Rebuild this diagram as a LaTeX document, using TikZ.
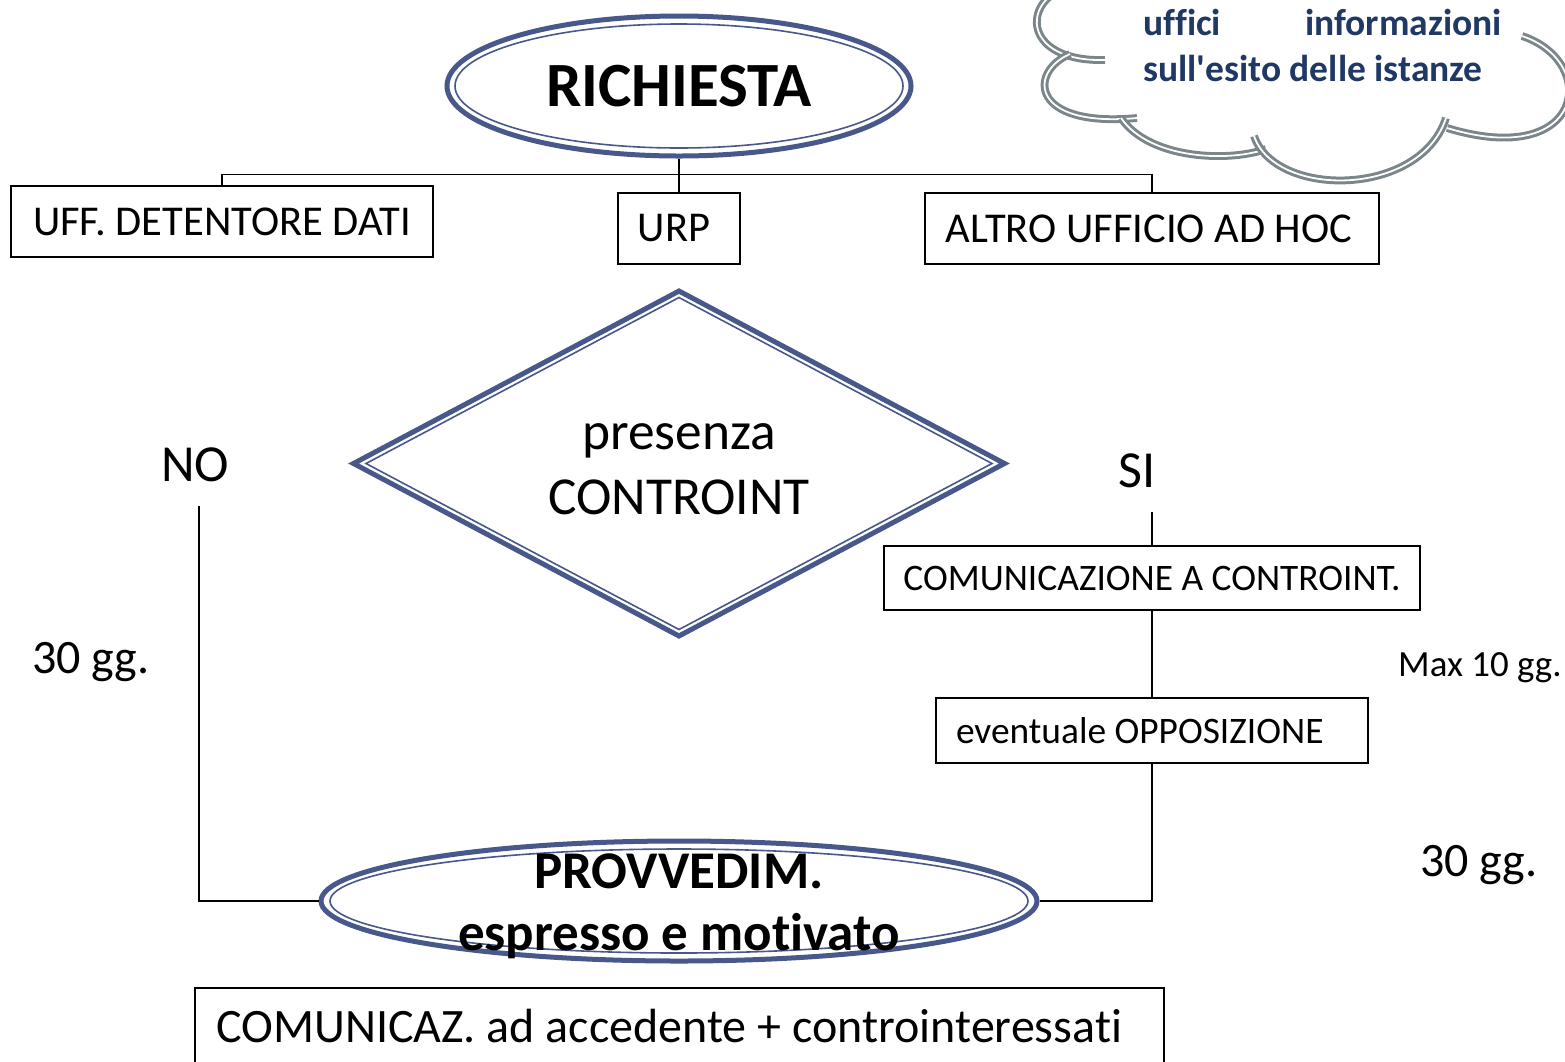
\documentclass[tikz,border=0pt]{standalone}
\usepackage{fontspec}
\setmainfont{Carlito}[Ligatures=NoCommon]
\newfontfamily\calib{Carlito}[Ligatures=NoCommon]
\usetikzlibrary{shapes.geometric}
\definecolor{shapeblue}{RGB}{72,88,138}
\definecolor{cloudgray}{RGB}{122,134,137}
\definecolor{cloudtext}{RGB}{31,56,100}
\tikzset{
  every node/.style={font=\calib},
  conn/.style={draw=black, line width=1.3},
  boxnode/.style={draw=black, line width=1.6, inner sep=0pt, font=\calib\fontsize{42.5}{50}\selectfont},
  midbox/.style={draw=black, line width=1.6, inner sep=0pt, font=\calib\fontsize{37.4}{44}\selectfont},
  lbl/.style={inner sep=0pt, font=\calib\fontsize{52}{60}\selectfont},
  smalllbl/.style={inner sep=0pt, font=\calib\fontsize{48}{56}\selectfont},
  outerline/.style={draw=shapeblue, line width=5},
  innerline/.style={draw=shapeblue, line width=1.6},
  lobe/.style={draw=cloudgray, double=white, line width=3, double distance=1.8},
  cloudtxt/.style={inner sep=0pt, text=cloudtext, font=\calib\fontsize{37.5}{46}\selectfont\bfseries},
}
\begin{document}
\begin{tikzpicture}[x=1pt,y=-1pt]
\useasboundingbox (0,0) rectangle (1565,1061);
\fill[white] (0,0) rectangle (1565,1061);

% cloud
\draw[lobe] (1056,-8) .. controls (1022,12) and (1030,62) .. (1105,60);
\draw[lobe] (1070,54) .. controls (1028,72) and (1030,128) .. (1137,118);
\draw[lobe] (1121,118) .. controls (1150,160) and (1230,162) .. (1266,149);
\draw[lobe] (1254,136) .. controls (1275,198) and (1420,198) .. (1446,118);
\draw[lobe] (1522,36) .. controls (1600,62) and (1585,170) .. (1447,128);
\node[cloudtxt, anchor=base west] (cl1) at (1143,35) {uffici};
\node[cloudtxt, anchor=base east] (cl2) at (1502,35) {informazioni};
\node[cloudtxt, anchor=base west] (cl3) at (1143,81) {sull'esito delle istanze};

% RICHIESTA
\node[ellipse, outerline, minimum width=464, minimum height=140, inner sep=0pt,
      font=\calib\fontsize{63}{70}\selectfont\bfseries] (req) at (679,86) {RICHIESTA};
\draw[innerline] (req.center) ellipse [x radius=224, y radius=62];

% top boxes
\node[boxnode, minimum width=422, minimum height=71] (uff) at (222,221.5) {UFF. DETENTORE DATI};
\node[boxnode, minimum width=122, minimum height=71] (urp) at (679,228.5) {URP\hspace*{10pt}};
\node[boxnode, minimum width=454, minimum height=71] (altro) at (1152,228.5) {ALTRO UFFICIO AD HOC\hspace*{6pt}};
\draw[conn] (req.south) -- (urp.north);
\draw[conn] (uff.north) -- ++(0,-11) -| (altro.north);

% diamond
\node[diamond, outerline, minimum width=653, minimum height=347, inner sep=0pt] (dec) at (679,463.5) {};
\draw[innerline] (679,297.5) -- (992,463.5) -- (679,629.5) -- (366,463.5) -- cycle;
\node[inner sep=0pt, anchor=base, font=\calib\fontsize{53.4}{60}\selectfont] (d1) at (679,449) {presenza};
\node[inner sep=0pt, anchor=base, font=\calib\fontsize{53.4}{60}\selectfont] (d2) at (679,514) {CONTROINT};

% labels
\node[lbl, anchor=base] (no) at (195,481) {NO};
\node[lbl, anchor=base] (si) at (1137,487) {SI};
\node[smalllbl, anchor=base west] (t30a) at (32,673) {30 gg.};
\node[smalllbl, anchor=base west] (t30b) at (1420,876) {30 gg.};
\node[inner sep=0pt, anchor=base west, font=\calib\fontsize{36.9}{44}\selectfont] (max10) at (1398,676) {Max 10 gg.};

% right branch
\node[midbox, minimum width=536, minimum height=64] (comA) at (1152,578) {COMUNICAZIONE A CONTROINT.};
\node[midbox, minimum width=432, minimum height=65] (opp) at (1152,730.5) {\hbox to 432pt{\hspace*{20pt}eventuale OPPOSIZIONE\hfill}};

% PROVVEDIM
\node[ellipse, outerline, minimum width=716, minimum height=120, inner sep=0pt] (prov) at (679,901) {};
\draw[innerline] (prov.center) ellipse [x radius=349, y radius=52];
\node[inner sep=0pt, anchor=base, font=\calib\fontsize{53}{62}\selectfont\bfseries] (p1) at (679,888) {PROVVEDIM.};
\node[inner sep=0pt, anchor=base, font=\calib\fontsize{53}{62}\selectfont\bfseries] (p2) at (679,950) {espresso e motivato};

\coordinate (noTop) at (199,506);
\coordinate (siTop) at (1152,512);
\draw[conn] (noTop) |- (prov.west);
\draw[conn] (siTop) -- (comA.north);
\draw[conn] (comA.south) -- (opp.north);
\draw[conn] (opp.south) |- (prov.east);

% bottom box
\node[boxnode, minimum width=969, minimum height=90, anchor=north] (com) at (679.5,987) {};
\node[inner sep=0pt, anchor=base west, font=\calib\fontsize{48}{56}\selectfont] (comtxt) at (216,1042) {COMUNICAZ. ad accedente + controinteressati};
\end{tikzpicture}
\end{document}
